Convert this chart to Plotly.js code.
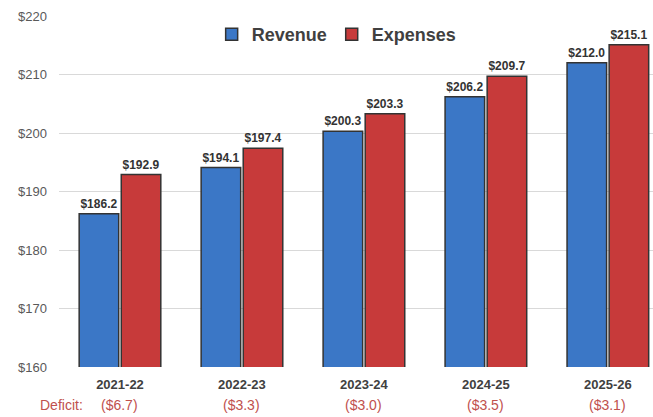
<!DOCTYPE html>
<html>
<head>
<meta charset="utf-8">
<script src="https://cdn.plot.ly/plotly-3.0.1.min.js"></script>
<style>
  body { margin: 0; background: #fff; }
  #chart { width: 653px; height: 417px; }
</style>
</head>
<body>
<div id="chart"></div>
<script>
// values (billions)
var years = ['2021-22', '2022-23', '2023-24', '2024-25', '2025-26'];
var revenue = [186.2, 194.1, 200.3, 206.2, 212.0];
var expenses = [192.9, 197.4, 203.3, 209.7, 215.1];
var deficits = ['($6.7)', '($3.3)', '($3.0)', '($3.5)', '($3.1)'];
var yTicks = [160, 170, 180, 190, 200, 210, 220];

var font = 'Liberation Sans, Arial, sans-serif';

function money(v){ return '$' + v.toFixed(1); }

var data = [{
    type: 'bar',
    name: 'Revenue',
    x: years,
    y: revenue,
    text: revenue.map(money),
    textposition: 'outside',
    cliponaxis: false,
    textfont: {family: font, size: 12, color: '#333333', weight: 'bold'},
    marker: {color: '#3b77c6', line: {color: '#333333', width: 1.5}}
}, {
    type: 'bar',
    name: 'Expenses',
    x: years,
    y: expenses,
    text: expenses.map(money),
    textposition: 'outside',
    cliponaxis: false,
    textfont: {family: font, size: 12, color: '#333333', weight: 'bold'},
    marker: {color: '#c73a3a', line: {color: '#333333', width: 1.5}}
}];

var annotations = [{
    xref: 'paper', yref: 'paper', x: 0.005, y: -0.108,
    xanchor: 'center', yanchor: 'middle', showarrow: false,
    text: 'Deficit:', font: {family: font, size: 14, color: '#c0504d'}
}];
for (var i = 0; i < years.length; i++) {
    annotations.push({
        xref: 'x', yref: 'paper', x: years[i], y: -0.108,
        xanchor: 'center', yanchor: 'middle', showarrow: false,
        text: deficits[i], font: {family: font, size: 14, color: '#c0504d'}
    });
}

var layout = {
    width: 653,
    height: 417,
    margin: {l: 59, r: 0, t: 16, b: 50},
    paper_bgcolor: '#ffffff',
    plot_bgcolor: '#ffffff',
    barmode: 'group',
    bargap: 0.31,
    bargroupgap: 0.06,
    showlegend: true,
    legend: {
        orientation: 'h', x: 0.257, xanchor: 'left', y: 1.0, yanchor: 'top',
        font: {family: font, size: 18, color: '#404040', weight: 'bold'},
        itemwidth: 30, traceorder: 'normal'
    },
    xaxis: {
        range: [-0.5, 4.37],
        showgrid: false,
        showline: false,
        ticks: '',
        ticklabelstandoff: 8,
        tickfont: {family: font, size: 13, color: '#404040', weight: 'bold'},
        fixedrange: true
    },
    yaxis: {
        range: [160, 220],
        tickvals: yTicks,
        ticktext: yTicks.map(function(v){ return '$' + v; }),
        showgrid: true,
        gridcolor: '#d9d9d9',
        gridwidth: 1,
        zeroline: false,
        showline: false,
        ticks: '',
        ticklabelstandoff: 11,
        tickfont: {family: font, size: 13, color: '#595959'},
        fixedrange: true
    },
    annotations: annotations
};

Plotly.newPlot('chart', data, layout, {displayModeBar: false, staticPlot: true});
</script>
</body>
</html>
